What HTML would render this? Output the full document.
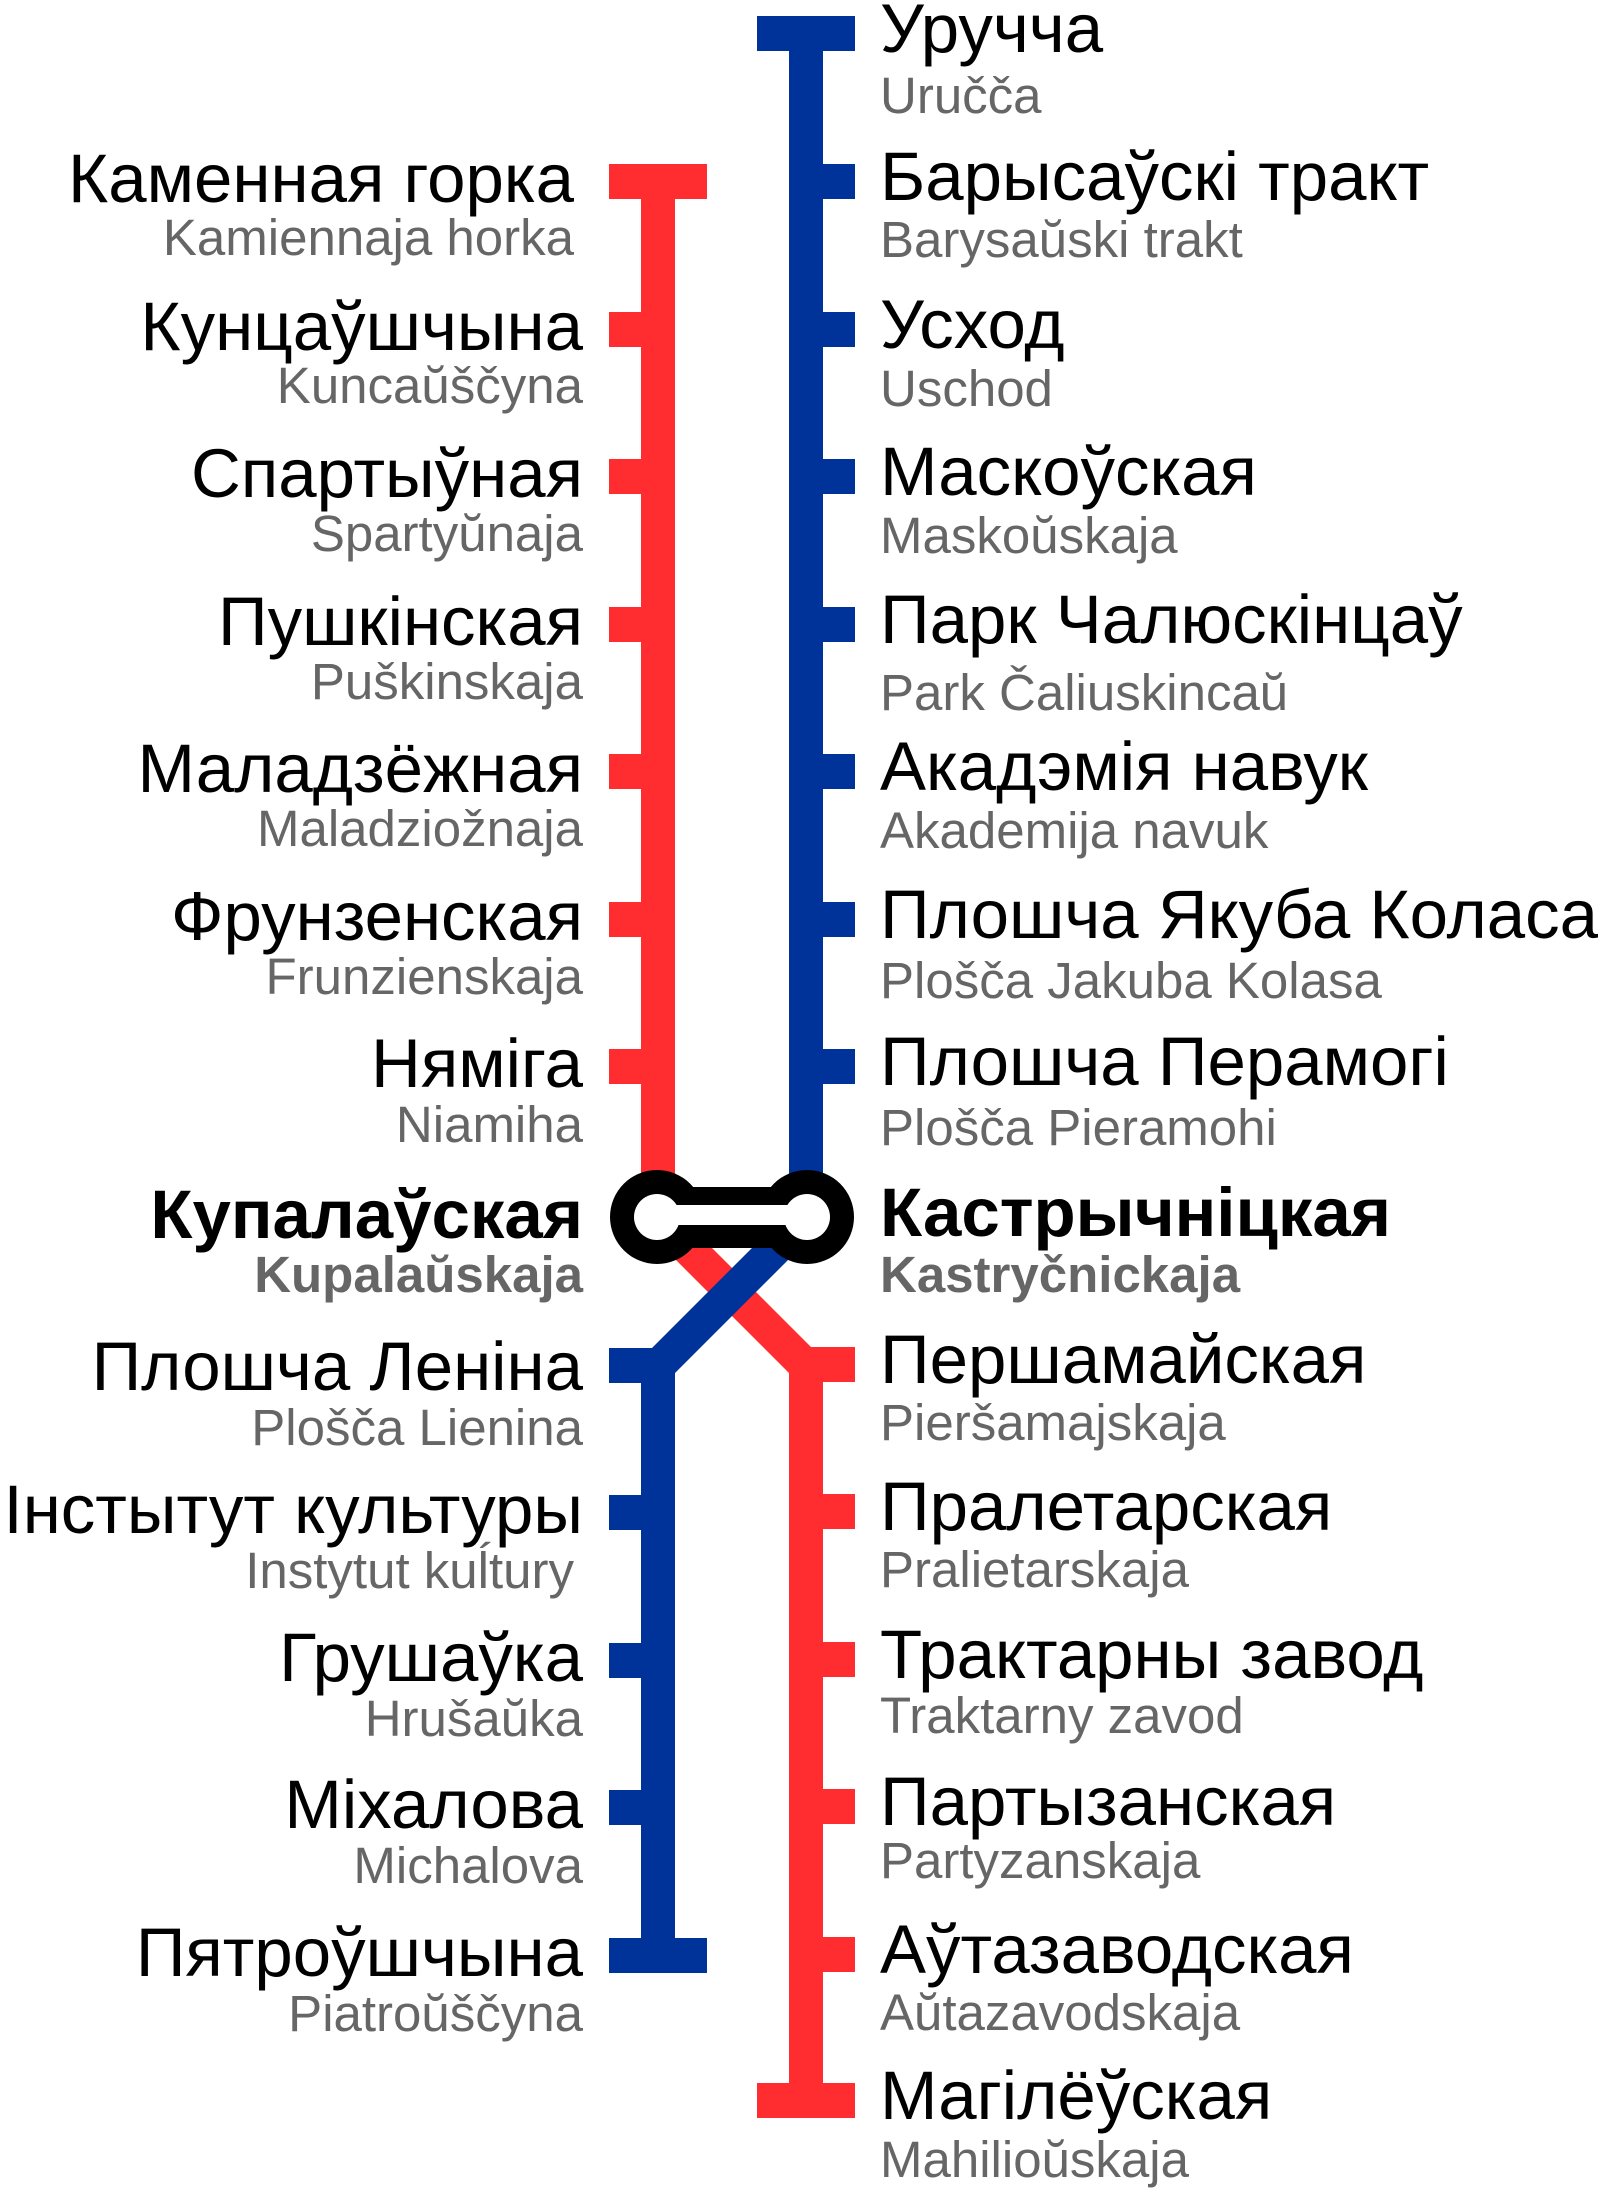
<!DOCTYPE html>
<html><head><meta charset="utf-8"><style>
html,body{margin:0;padding:0;background:#fff;}
svg{display:block;}
.c{font-family:"Liberation Sans",sans-serif;font-size:69px;fill:#000;}
.l{font-family:"Liberation Sans",sans-serif;font-size:51px;fill:#666;}
.b{font-weight:bold;}
.e{text-anchor:end;}
</style></head><body>
<svg width="1603" height="2193" viewBox="0 0 1603 2193" xmlns="http://www.w3.org/2000/svg">
<g fill="none" stroke-width="34" stroke-linejoin="miter">
<polyline points="658,181 658,1218 806,1366 806,2100" stroke="#ff2d2f"/>
<polyline points="806,33 806,1218 658,1366 658,1955" stroke="#003399"/>
</g>
<g fill="#ff2d2f">
<rect x="609" y="164" width="98" height="35"/>
<rect x="609" y="312" width="49" height="35"/>
<rect x="609" y="459" width="49" height="35"/>
<rect x="609" y="607" width="49" height="35"/>
<rect x="609" y="754" width="49" height="35"/>
<rect x="609" y="902" width="49" height="35"/>
<rect x="609" y="1049" width="49" height="35"/>
<rect x="806" y="1347" width="49" height="35"/>
<rect x="806" y="1494" width="49" height="35"/>
<rect x="806" y="1642" width="49" height="35"/>
<rect x="806" y="1789" width="49" height="35"/>
<rect x="806" y="1937" width="49" height="35"/>
<rect x="757" y="2083" width="98" height="35"/>
</g>
<g fill="#003399">
<rect x="757" y="16" width="98" height="35"/>
<rect x="806" y="164" width="49" height="35"/>
<rect x="806" y="312" width="49" height="35"/>
<rect x="806" y="459" width="49" height="35"/>
<rect x="806" y="607" width="49" height="35"/>
<rect x="806" y="754" width="49" height="35"/>
<rect x="806" y="902" width="49" height="35"/>
<rect x="806" y="1049" width="49" height="35"/>
<rect x="609" y="1348" width="49" height="35"/>
<rect x="609" y="1495" width="49" height="35"/>
<rect x="609" y="1643" width="49" height="35"/>
<rect x="609" y="1790" width="49" height="35"/>
<rect x="609" y="1938" width="98" height="35"/>
</g>
<g>
<rect x="657" y="1187" width="150" height="61" fill="#000"/>
<circle cx="657" cy="1217" r="47" fill="#000"/>
<circle cx="807" cy="1217" r="47" fill="#000"/>
<circle cx="657" cy="1217" r="23" fill="#fff"/>
<circle cx="807" cy="1217" r="23" fill="#fff"/>
<rect x="657" y="1205" width="150" height="20" fill="#fff"/>
</g>
<g>
<text class="c" x="880" y="52">Уручча</text><text class="l" x="880" y="113">Uručča</text>
<text class="c" x="880" y="200">Барысаўскі тракт</text><text class="l" x="880" y="257">Barysaŭski trakt</text>
<text class="c" x="880" y="348">Усход</text><text class="l" x="880" y="406">Uschod</text>
<text class="c" x="880" y="495">Маскоўская</text><text class="l" x="880" y="553">Maskoŭskaja</text>
<text class="c" x="880" y="643">Парк Чалюскінцаў</text><text class="l" x="880" y="710">Park Čaliuskincaŭ</text>
<text class="c" x="880" y="790">Акадэмія навук</text><text class="l" x="880" y="848">Akademija navuk</text>
<text class="c" x="880" y="938">Плошча Якуба Коласа</text><text class="l" x="880" y="998">Plošča Jakuba Kolasa</text>
<text class="c" x="880" y="1085">Плошча Перамогі</text><text class="l" x="880" y="1145">Plošča Pieramohi</text>
<text class="c b" x="880" y="1236">Кастрычніцкая</text><text class="l b" x="880" y="1292">Kastryčnickaja</text>
<text class="c" x="880" y="1383">Першамайская</text><text class="l" x="880" y="1440">Pieršamajskaja</text>
<text class="c" x="880" y="1530">Пралетарская</text><text class="l" x="880" y="1587">Pralietarskaja</text>
<text class="c" x="880" y="1678">Трактарны завод</text><text class="l" x="880" y="1733">Traktarny zavod</text>
<text class="c" x="880" y="1825">Партызанская</text><text class="l" x="880" y="1878">Partyzanskaja</text>
<text class="c" x="880" y="1973">Аўтазаводская</text><text class="l" x="880" y="2030">Aŭtazavodskaja</text>
<text class="c" x="880" y="2119">Магілёўская</text><text class="l" x="880" y="2177">Mahilioŭskaja</text>
</g>
<g class="e">
<text class="c e" x="574" y="202">Каменная горка</text><text class="l e" x="574" y="255">Kamiennaja horka</text>
<text class="c e" x="583" y="350">Кунцаўшчына</text><text class="l e" x="583" y="403">Kuncaŭščyna</text>
<text class="c e" x="583" y="497">Спартыўная</text><text class="l e" x="583" y="551">Spartyŭnaja</text>
<text class="c e" x="583" y="645">Пушкінская</text><text class="l e" x="583" y="699">Puškinskaja</text>
<text class="c e" x="583" y="792">Маладзёжная</text><text class="l e" x="583" y="846">Maladziožnaja</text>
<text class="c e" x="583" y="940">Фрунзенская</text><text class="l e" x="583" y="994">Frunzienskaja</text>
<text class="c e" x="583" y="1087">Няміга</text><text class="l e" x="583" y="1142">Niamiha</text>
<text class="c e b" x="583" y="1238">Купалаўская</text><text class="l e b" x="583" y="1292">Kupalaŭskaja</text>
<text class="c e" x="583" y="1390">Плошча Леніна</text><text class="l e" x="583" y="1445">Plošča Lienina</text>
<text class="c e" x="583" y="1533">Інстытут культуры</text><text class="l e" x="574" y="1588">Instytut kuĺtury</text>
<text class="c e" x="583" y="1681">Грушаўка</text><text class="l e" x="583" y="1736">Hrušaŭka</text>
<text class="c e" x="583" y="1828">Міхалова</text><text class="l e" x="583" y="1883">Michalova</text>
<text class="c e" x="583" y="1976">Пятроўшчына</text><text class="l e" x="583" y="2031">Piatroŭščyna</text>
</g>
</svg>
</body></html>
